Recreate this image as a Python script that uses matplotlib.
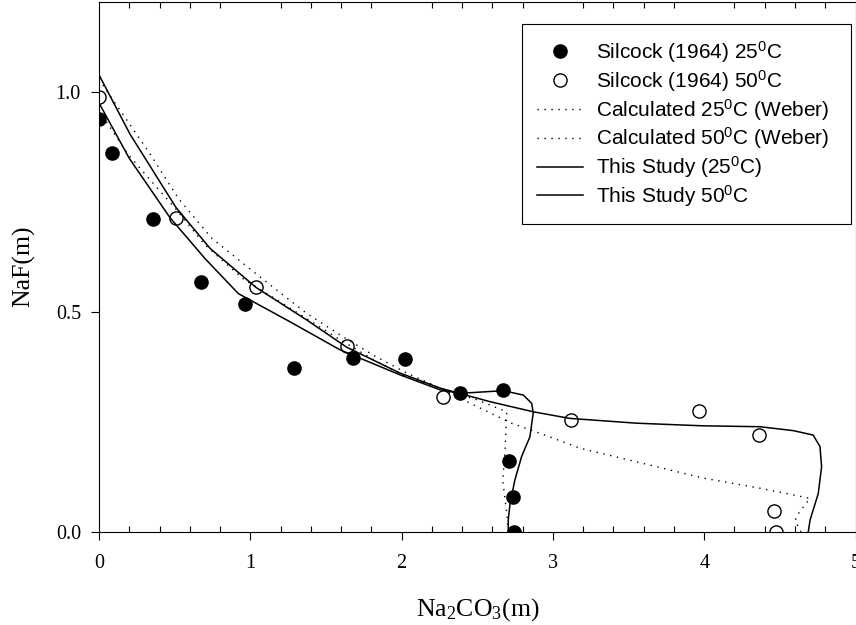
import matplotlib
matplotlib.use("Agg")
import matplotlib.pyplot as plt
from matplotlib.ticker import MultipleLocator

# Silcock (1964) data, Na2CO3 (m) vs NaF (m)
silcock25_x = [0.0, 0.086, 0.355, 0.676, 0.965, 1.29, 1.68, 2.02, 2.386, 2.672, 2.712, 2.738, 2.743]
silcock25_y = [0.939, 0.863, 0.712, 0.569, 0.518, 0.372, 0.396, 0.393, 0.315, 0.323, 0.162, 0.080, 0.0]
silcock50_x = [0.0, 0.509, 1.038, 1.64, 2.276, 3.117, 3.966, 4.364, 4.461, 4.472]
silcock50_y = [0.99, 0.715, 0.557, 0.423, 0.307, 0.254, 0.275, 0.219, 0.047, 0.0]

# Weber model curves
weber25_x = [0.0, 0.062, 0.194, 0.348, 0.502, 0.70, 0.955, 1.152, 1.373, 1.593, 1.813, 2.034,
             2.254, 2.5, 2.695, 2.683, 2.668, 2.695, 2.705]
weber25_y = [0.96, 0.926, 0.858, 0.797, 0.737, 0.653, 0.575, 0.533, 0.485, 0.437, 0.392, 0.352,
             0.327, 0.30, 0.273, 0.179, 0.118, 0.042, 0.0]
weber50_x = [0.0, 0.084, 0.326, 0.524, 0.745, 1.075, 1.373, 1.593, 1.813, 2.034, 2.21, 2.474,
             2.727, 2.915, 3.18, 3.554, 3.994, 4.369, 4.699, 4.62, 4.60, 4.64]
weber50_y = [1.03, 0.987, 0.866, 0.759, 0.668, 0.577, 0.497, 0.448, 0.402, 0.361, 0.334, 0.289,
             0.247, 0.224, 0.19, 0.159, 0.122, 0.099, 0.076, 0.04, 0.025, 0.0]

# This study
study25_x = [0.0, 0.2, 0.469, 0.70, 0.921, 1.262, 1.593, 1.99, 2.254, 2.386, 2.672, 2.805, 2.86,
             2.87, 2.848, 2.793, 2.749, 2.717, 2.705, 2.705]
study25_y = [0.976, 0.85, 0.715, 0.622, 0.542, 0.478, 0.414, 0.357, 0.323, 0.315, 0.321, 0.311, 0.292,
             0.27, 0.216, 0.171, 0.118, 0.065, 0.027, 0.0]
study50_x = [0.0, 0.205, 0.509, 0.734, 1.038, 1.373, 1.637, 1.99, 2.254, 2.584, 2.87, 3.11,
             3.554, 3.994, 4.369, 4.59, 4.72, 4.765, 4.776, 4.754, 4.70, 4.688]
study50_y = [1.040, 0.905, 0.738, 0.645, 0.556, 0.482, 0.42, 0.361, 0.327, 0.296, 0.273, 0.258,
             0.247, 0.241, 0.239, 0.230, 0.220, 0.194, 0.148, 0.087, 0.027, 0.0]

plt.rcParams["font.family"] = "Liberation Serif"
plt.rcParams["mathtext.default"] = "regular"

fig = plt.figure(figsize=(8.56, 6.25), dpi=100)
ax = fig.add_axes([99 / 856, (625 - 531.7) / 625, 756.5 / 856, 530.2 / 625])

dots = (0, (1, 4))
ax.plot(weber25_x, weber25_y, color="black", lw=1.0, ls=dots, label="Calculated 25$^0$C (Weber)")
ax.plot(weber50_x, weber50_y, color="black", lw=1.0, ls=dots, label="Calculated 50$^0$C (Weber)")
ax.plot(study25_x, study25_y, color="black", lw=1.1, label="This Study (25$^0$C)")
ax.plot(study50_x, study50_y, color="black", lw=1.1, label="This Study 50$^0$C")
ax.plot(silcock25_x, silcock25_y, "o", color="black", ms=9.5, label="Silcock (1964) 25$^0$C")
ax.plot(silcock50_x, silcock50_y, "o", mfc="none", mec="black", mew=1.0, ms=9.5,
        label="Silcock (1964) 50$^0$C")

ax.set_xlim(0, 5)
ax.set_ylim(0, 1.207)
ax.xaxis.set_major_locator(MultipleLocator(1))
ax.xaxis.set_minor_locator(MultipleLocator(0.2))
ax.set_yticks([0.0, 0.5, 1.0])
ax.set_yticklabels(["0.0", "0.5", "1.0"])
ax.tick_params(which="major", direction="out", length=6, width=0.8, labelsize=14.5, top=False)
ax.tick_params(axis="x", which="minor", direction="in", length=4, width=0.8, top=True)
ax.tick_params(axis="x", which="major", pad=10)
ax.tick_params(axis="y", which="major", pad=7)
for s in ax.spines.values():
    s.set_linewidth(0.8)

ax.set_xlabel("Na$_2$CO$_3$(m)", fontsize=18.5, labelpad=17)
ax.set_ylabel("NaF(m)", fontsize=18.5, labelpad=15)

handles, labels = ax.get_legend_handles_labels()
order = [4, 5, 0, 1, 2, 3]
leg = ax.legend([handles[i] for i in order], [labels[i] for i in order],
                loc="upper left", mode="expand",
                bbox_to_anchor=(522 / 856, 1 - 24 / 625, 329 / 856, 0),
                bbox_transform=fig.transFigure, borderaxespad=0,
                prop={"family": "Liberation Sans", "size": 15},
                frameon=True, fancybox=False, framealpha=1, edgecolor="black",
                handlelength=2.2, handletextpad=0.62, labelspacing=0.14,
                borderpad=0.72, numpoints=1)
leg.get_frame().set_linewidth(0.8)

fig.savefig("out.png", dpi=100)
